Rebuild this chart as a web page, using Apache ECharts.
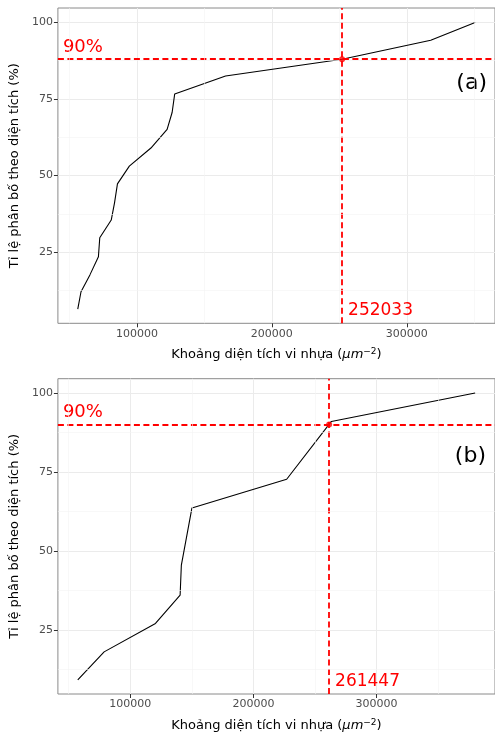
<!DOCTYPE html>
<html><head><meta charset="utf-8">
<script src="https://cdn.jsdelivr.net/npm/echarts@6/dist/echarts.min.js"></script>
<style>html,body{margin:0;padding:0;background:#fff}#c{width:495px;height:734px}</style>
</head><body><div id="c"></div>
<script>
// ---- data ----
const aX = [56200, 58600, 65200, 71500, 72500, 81000, 83400, 85600, 94400, 110400, 122400, 126100, 128000, 165700, 252033, 317700, 350600];
const aY = [6.4, 12.1, 17.6, 23.5, 29.7, 35.5, 41.0, 47.3, 53.1, 59.0, 65.1, 70.6, 76.6, 82.5, 88.0, 94.2, 100];
const bX = [57400, 78800, 120500, 140500, 141500, 150100, 227000, 263300, 380000];
const bY = [9.1, 18.0, 27.0, 36.0, 45.5, 63.6, 72.7, 91.0, 100];
const aMark = [252033, 88.0];
const bMark = [261447, 90.0];
const markText = '90%';
const panelTags = ['(a)', '(b)'];
const xTicks = [100000, 200000, 300000];
const xMinor = [50000, 150000, 250000, 350000];
const yTicks = [25, 50, 75, 100];
const yMinor = [12.5, 37.5, 62.5, 87.5];
const aRange = {xMin: 41480, xMax: 365320, yMin: 1.8, yMax: 104.7};
const bRange = {xMin: 41270, xMax: 396130, yMin: 4.66, yMax: 104.54};

const FONT = 'DejaVu Sans';
const RED = '#ff0000';
const chart = echarts.init(document.getElementById('c'));

function xAxisCfg(gi, r) {
  return {
    type: 'value', gridIndex: gi, min: r.xMin, max: r.xMax,
    axisLine: {show: false},
    axisTick: {show: true, customValues: xTicks, length: 4, lineStyle: {color: '#333333', width: 1}},
    axisLabel: {customValues: xTicks, formatter: v => String(v), fontSize: 11, color: '#4d4d4d', fontFamily: FONT, margin: 5},
    splitLine: {show: true, lineStyle: {color: '#ebebeb', width: 1}},
    name: 'Khoảng diện tích vi nhựa ({i|μm}{s|−2})',
    nameLocation: 'middle', nameGap: 24,
    nameTextStyle: {
      fontSize: 13, color: '#000000', fontFamily: FONT,
      rich: {
        i: {fontSize: 13, fontStyle: 'italic', fontFamily: FONT, color: '#000'},
        s: {fontSize: 9, fontFamily: FONT, color: '#000', verticalAlign: 'top', padding: [0, 0, 6, 0]}
      }
    }
  };
}
function yAxisCfg(gi, r) {
  return {
    type: 'value', gridIndex: gi, min: r.yMin, max: r.yMax,
    axisLine: {show: false},
    axisTick: {show: true, customValues: yTicks, length: 4, lineStyle: {color: '#333333', width: 1}},
    axisLabel: {customValues: yTicks, formatter: v => String(v), fontSize: 11, color: '#4d4d4d', fontFamily: FONT, margin: 5},
    splitLine: {show: true, lineStyle: {color: '#ebebeb', width: 1}},
    name: 'Tỉ lệ phân bố theo diện tích (%)',
    nameLocation: 'middle', nameGap: 33,
    nameTextStyle: {fontSize: 13, color: '#000000', fontFamily: FONT}
  };
}
function minorSeries(gi) {
  return {
    type: 'line', xAxisIndex: gi, yAxisIndex: gi, data: [], silent: true, z: 1,
    markLine: {
      silent: true, symbol: 'none', label: {show: false}, animation: false,
      lineStyle: {color: '#f3f3f3', width: 0.6, type: 'solid'},
      data: xMinor.map(v => ({xAxis: v})).concat(yMinor.map(v => ({yAxis: v})))
    }
  };
}
function curveSeries(gi, xs, ys) {
  return {
    type: 'line', xAxisIndex: gi, yAxisIndex: gi, z: 3,
    data: xs.map((x, i) => [x, ys[i]]),
    showSymbol: false, symbol: 'none',
    lineStyle: {color: '#000000', width: 1.1}
  };
}
const redDash = {color: RED, width: 1.8, type: [6, 3.5], opacity: 1};
function refLineSeries(gi, m) {
  return {
    type: 'line', xAxisIndex: gi, yAxisIndex: gi, data: [], z: 4, silent: true,
    itemStyle: {color: RED}, lineStyle: {color: RED},
    markLine: {
      silent: true, symbol: 'none', animation: false, z: 4,
      lineStyle: redDash,
      data: [
        {yAxis: m[1], lineStyle: redDash, label: {show: true, formatter: markText, position: 'insideStartTop',
          distance: [5, 3], color: RED, fontSize: 18, fontFamily: FONT}},
        {xAxis: m[0], lineStyle: redDash, label: {show: false}}
      ]
    }
  };
}
function markSeries(gi, m, r) {
  return {
    type: 'scatter', xAxisIndex: gi, yAxisIndex: gi, z: 5,
    data: [m], symbolSize: 6, itemStyle: {color: RED},
    markPoint: {
      silent: true, animation: false,
      data: [{coord: [m[0], r.yMin], symbol: 'circle', symbolSize: 0,
        label: {show: true, formatter: String(m[0]), position: [6, -4], align: 'left', verticalAlign: 'bottom',
          color: RED, fontSize: 17, fontFamily: FONT}}]
    }
  };
}

chart.setOption({
  animation: false,
  backgroundColor: '#ffffff',
  grid: [
    {left: 54.5, top: 8, width: 444, height: 315.3, show: true, borderColor: '#8a8a8a', borderWidth: 1, containLabel: false},
    {left: 54.5, top: 378.7, width: 444.5, height: 315.3, show: true, borderColor: '#8a8a8a', borderWidth: 1, containLabel: false}
  ],
  xAxis: [xAxisCfg(0, aRange), xAxisCfg(1, bRange)],
  yAxis: [yAxisCfg(0, aRange), yAxisCfg(1, bRange)],
  series: [
    minorSeries(0), minorSeries(1),
    curveSeries(0, aX, aY), curveSeries(1, bX, bY),
    refLineSeries(0, aMark), refLineSeries(1, bMark),
    markSeries(0, aMark, aRange), markSeries(1, bMark, bRange)
  ],
  graphic: [
    {type: 'text', right: 8, top: 72, style: {text: panelTags[0], fontSize: 22, fontFamily: FONT, fill: '#000'}},
    {type: 'text', right: 9, top: 445, style: {text: panelTags[1], fontSize: 22, fontFamily: FONT, fill: '#000'}}
  ]
});
</script></body></html>
